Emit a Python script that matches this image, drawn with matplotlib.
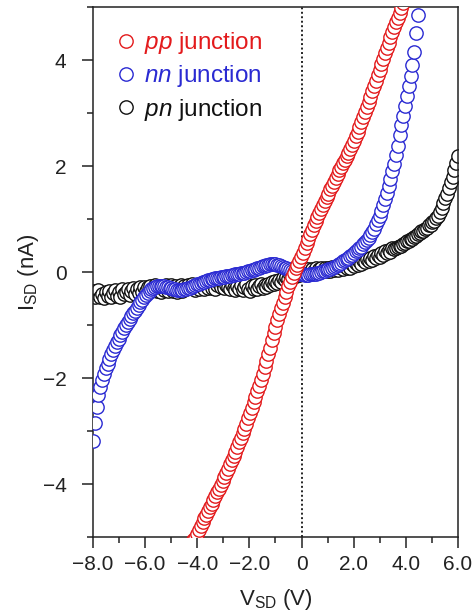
import numpy as np
import matplotlib.pyplot as plt
from matplotlib.ticker import MultipleLocator

plt.rcParams['font.family'] = ['Liberation Sans', 'DejaVu Sans']
plt.rcParams['mathtext.fontset'] = 'custom'
plt.rcParams['mathtext.rm'] = 'Liberation Sans'
plt.rcParams['mathtext.it'] = 'Liberation Sans:italic'

# bias sweep, -8 V to 6 V (201 points)
v_sd = np.round(np.linspace(-8.0, 6.0, 201), 2)

# pn junction current (nA), full sweep
i_pn = [
    -0.36, -0.47, -0.40, -0.34, -0.48, -0.42, -0.49, -0.37, -0.45, -0.35,
    -0.47, -0.40, -0.34, -0.46, -0.38, -0.47, -0.33, -0.42, -0.37, -0.32,
    -0.43, -0.35, -0.30, -0.41, -0.33, -0.39, -0.29, -0.37, -0.28, -0.36,
    -0.29, -0.26, -0.36, -0.30, -0.25, -0.35, -0.28, -0.37, -0.26, -0.34,
    -0.25, -0.36, -0.31, -0.24, -0.35, -0.27, -0.37, -0.29, -0.24, -0.35,
    -0.27, -0.33, -0.24, -0.31, -0.23, -0.30, -0.34, -0.25, -0.32, -0.22,
    -0.27, -0.33, -0.24, -0.31, -0.21, -0.30, -0.23, -0.32, -0.25, -0.20,
    -0.28, -0.22, -0.31, -0.24, -0.29, -0.33, -0.25, -0.31, -0.34, -0.26,
    -0.32, -0.24, -0.34, -0.28, -0.23, -0.32, -0.35, -0.26, -0.32, -0.24,
    -0.33, -0.27, -0.23, -0.31, -0.25, -0.28, -0.22, -0.25, -0.19, -0.23,
    -0.17, -0.21, -0.15, -0.19, -0.12, -0.16, -0.09, -0.13, -0.06, -0.10,
    -0.03, -0.07, 0.00, -0.05, 0.03, -0.02, 0.05, -0.01, 0.06, 0.00,
    0.06, 0.01, 0.07, 0.00, 0.05, 0.08, 0.01, 0.07, 0.02, 0.08,
    0.02, 0.09, 0.03, 0.10, 0.04, 0.09, 0.11, 0.05, 0.12, 0.07,
    0.13, 0.08, 0.15, 0.11, 0.17, 0.13, 0.20, 0.15, 0.22, 0.18,
    0.25, 0.20, 0.27, 0.23, 0.30, 0.26, 0.33, 0.29, 0.36, 0.32,
    0.39, 0.35, 0.42, 0.38, 0.45, 0.44, 0.46, 0.47, 0.49, 0.50,
    0.53, 0.54, 0.58, 0.58, 0.62, 0.63, 0.66, 0.68, 0.71, 0.73,
    0.77, 0.78, 0.82, 0.83, 0.88, 0.89, 0.94, 0.96, 1.02, 1.06,
    1.13, 1.21, 1.30, 1.39, 1.48, 1.58, 1.69, 1.80, 1.92, 2.05,
    2.18,
]

# nn junction current (nA), from -8 V up to 4.46 V
i_nn = [
    -3.18, -2.84, -2.54, -2.33, -2.17, -2.04, -1.92, -1.82, -1.73, -1.64,
    -1.55, -1.47, -1.40, -1.33, -1.26, -1.19, -1.13, -1.06, -1.00, -0.94,
    -0.88, -0.83, -0.78, -0.73, -0.68, -0.62, -0.57, -0.52, -0.48, -0.43,
    -0.39, -0.35, -0.32, -0.30, -0.28, -0.27, -0.26, -0.26, -0.26, -0.27,
    -0.28, -0.29, -0.30, -0.31, -0.32, -0.33, -0.34, -0.34, -0.34, -0.34,
    -0.33, -0.32, -0.31, -0.30, -0.28, -0.27, -0.25, -0.23, -0.22, -0.20,
    -0.19, -0.18, -0.17, -0.16, -0.15, -0.14, -0.13, -0.12, -0.11, -0.11,
    -0.10, -0.09, -0.09, -0.08, -0.07, -0.07, -0.06, -0.05, -0.04, -0.04,
    -0.03, -0.02, -0.02, -0.01, 0.00, 0.01, 0.02, 0.03, 0.04, 0.06,
    0.07, 0.08, 0.10, 0.11, 0.12, 0.13, 0.14, 0.15, 0.15, 0.15,
    0.15, 0.14, 0.13, 0.12, 0.10, 0.08, 0.07, 0.05, 0.03, 0.01,
    0.00, -0.01, -0.02, -0.03, -0.04, -0.04, -0.05, -0.05, -0.05, -0.04,
    -0.04, -0.03, -0.03, -0.02, -0.01, 0.00, 0.01, 0.02, 0.03, 0.05,
    0.06, 0.07, 0.09, 0.11, 0.13, 0.15, 0.17, 0.20, 0.22, 0.25,
    0.27, 0.30, 0.33, 0.35, 0.39, 0.42, 0.45, 0.48, 0.52, 0.56,
    0.60, 0.65, 0.70, 0.76, 0.82, 0.90, 0.98, 1.06, 1.16, 1.26,
    1.37, 1.50, 1.62, 1.75, 1.90, 2.04, 2.20, 2.38, 2.58, 2.77,
    2.95, 3.14, 3.32, 3.51, 3.70, 3.91, 4.16, 4.50, 4.85,
]

# pp junction current (nA), from -4.15 V to 3.90 V
pp_start = 55
i_pp = [
    -5.06, -5.01, -4.94, -4.87, -4.80,
    -4.72, -4.65, -4.58, -4.51, -4.44, -4.37, -4.30, -4.23, -4.16, -4.09,
    -4.02, -3.95, -3.87, -3.79, -3.71, -3.63, -3.55, -3.47, -3.39, -3.30,
    -3.21, -3.13, -3.04, -2.96, -2.86, -2.76, -2.66, -2.56, -2.46, -2.36,
    -2.25, -2.15, -2.04, -1.93, -1.80, -1.68, -1.55, -1.43, -1.29, -1.16,
    -1.03, -0.91, -0.80, -0.68, -0.58, -0.47, -0.37, -0.26, -0.18, -0.09,
    -0.01, 0.07, 0.14, 0.21, 0.28, 0.36, 0.45, 0.54, 0.63, 0.71,
    0.80, 0.88, 0.96, 1.04, 1.11, 1.19, 1.26, 1.34, 1.41, 1.48,
    1.56, 1.63, 1.70, 1.78, 1.85, 1.92, 1.98, 2.05, 2.11, 2.18,
    2.25, 2.32, 2.40, 2.48, 2.56, 2.64, 2.73, 2.83, 2.93, 3.02,
    3.12, 3.21, 3.31, 3.41, 3.51, 3.61, 3.72, 3.82, 3.92, 4.02,
    4.13, 4.23, 4.33, 4.43, 4.53, 4.62, 4.71, 4.80, 4.89, 4.98,
    5.07,
]

v_nn = v_sd[:len(i_nn)]
v_pp = v_sd[pp_start:pp_start + len(i_pp)]

red = '#e31a1c'
blue = '#2a2ad2'
black = '#111111'
txt = '#222222'

fig = plt.figure(figsize=(4.75, 6.14), dpi=100)
ax = fig.add_axes([0.1958, 0.1254, 0.7684, 0.8632])

ax.axvline(0, color='#222222', lw=1.4, ls=(0, (1, 1.3)), zorder=1)

mk = dict(ls='none', marker='o', ms=9.6, mew=1.0, mfc='white')
h_pn, = ax.plot(v_sd, i_pn, mec=black, zorder=2, **mk)
h_nn, = ax.plot(v_nn, i_nn, mec=blue, zorder=3, **mk)
h_pp, = ax.plot(v_pp, i_pp, mec=red, zorder=4, **mk)

ax.set_xlim(-8, 6)
ax.set_ylim(-5, 5)

xt = [-8, -6, -4, -2, 0, 2, 4, 6]
ax.set_xticks(xt)
ax.set_xticklabels(['0' if t == 0 else f'{t:.1f}'.replace('-', '\u2212') for t in xt])
yt = [-4, -2, 0, 2, 4]
ax.set_yticks(yt)
ax.set_yticklabels([f'{t:d}'.replace('-', '\u2212') for t in yt])
ax.xaxis.set_minor_locator(MultipleLocator(1))
ax.yaxis.set_minor_locator(MultipleLocator(1))
ax.tick_params(which='major', direction='out', length=8, width=1.1,
               labelsize=15, colors=txt)
ax.tick_params(which='minor', direction='out', length=4, width=1.1, colors=txt)
ax.tick_params(axis='x', which='major', pad=5)
ax.tick_params(axis='y', which='major', pad=11)
for s in ax.spines.values():
    s.set_linewidth(1.1)
    s.set_color(txt)

ax.set_xlabel(r'V$_\mathregular{SD}$ (V)', fontsize=16, color=txt, labelpad=9)
ax.set_ylabel(r'I$_\mathregular{SD}$ (nA)', fontsize=16, color=txt, labelpad=1)

leg = ax.legend([h_pp, h_nn, h_pn],
                [r'$\mathit{pp}$ junction', r'$\mathit{nn}$ junction',
                 r'$\mathit{pn}$ junction'],
                loc='upper left', frameon=False, fontsize=17.5,
                handlelength=0.8, handletextpad=0.36, labelspacing=0.3,
                borderaxespad=0.55, borderpad=0.4)
for t, c in zip(leg.get_texts(), [red, blue, black]):
    t.set_color(c)

fig.savefig('out.png', dpi=100)
